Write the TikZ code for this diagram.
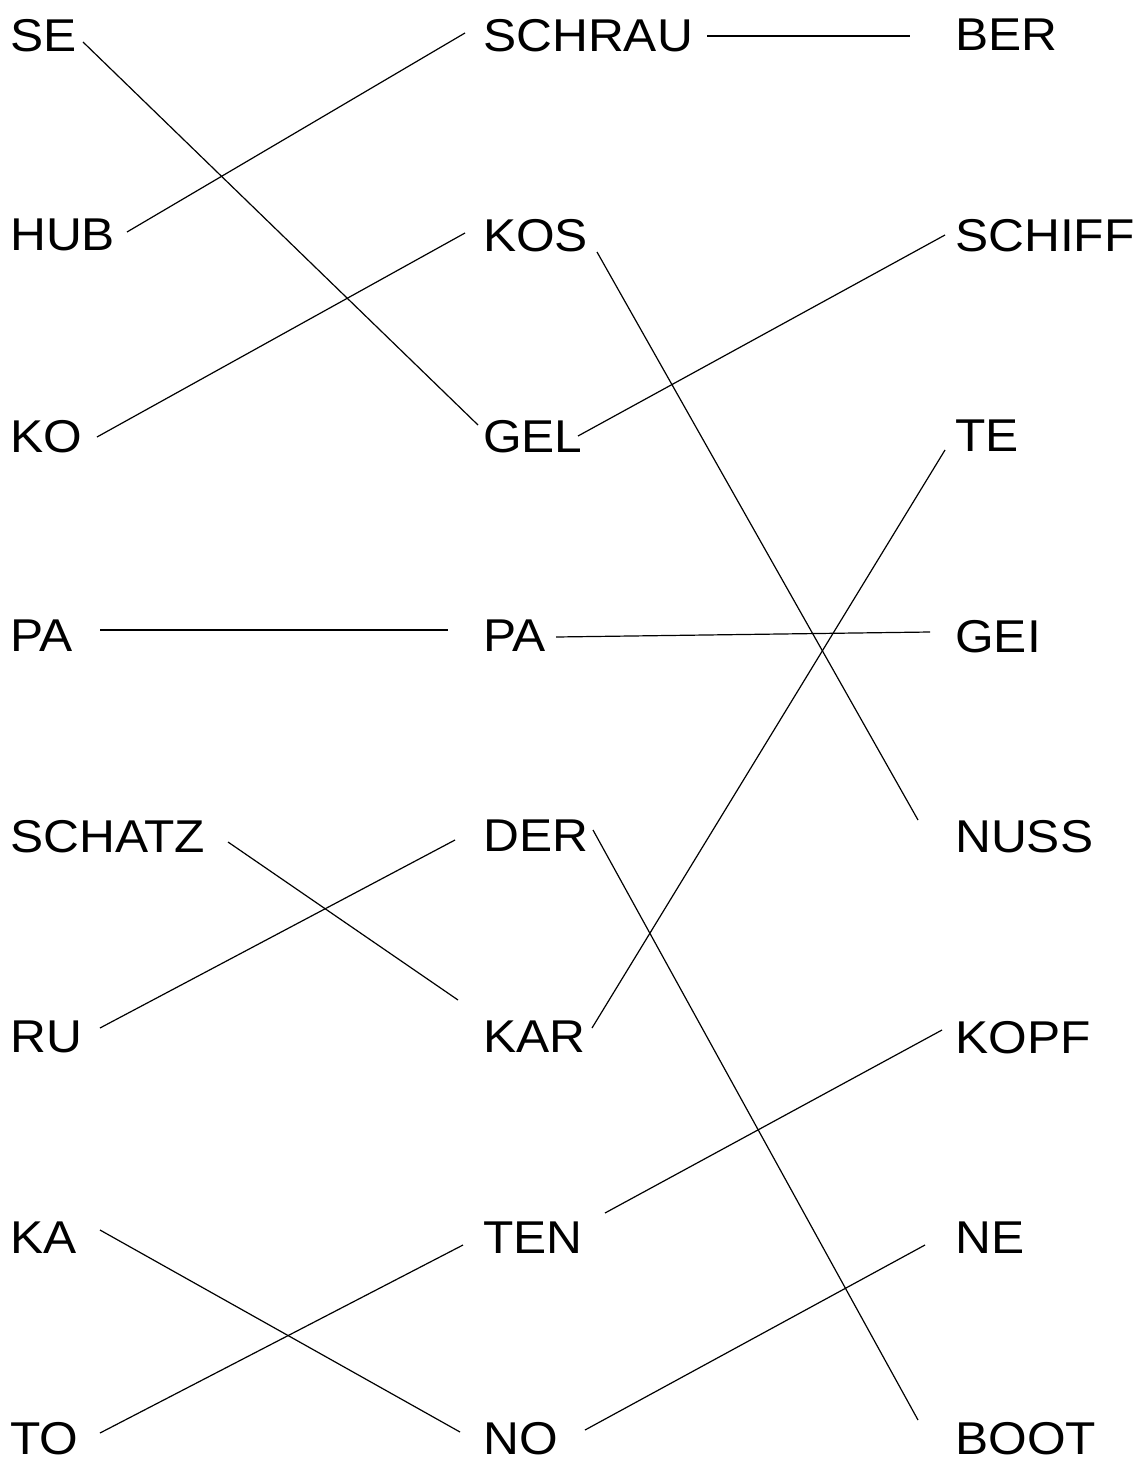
\documentclass[tikz,border=0pt]{standalone}
\usepackage{fontspec}
\setmainfont{Liberation Sans}
\newfontfamily\wordfont[FakeStretch=1.08]{Liberation Sans}
\begin{document}
\begin{tikzpicture}[x=1pt,y=-1pt,
  word/.style={anchor=west,inner sep=0pt,text depth=0pt,font=\wordfont\fontsize{46}{50}\selectfont},
  link/.style={line width=1.2pt,black}]
\useasboundingbox (0,0) rectangle (1143,1461);
% left column
\node[word] (se) at (10,35) {SE};
\node[word] (hub) at (10,235) {HUB};
\node[word] (ko) at (10,436) {KO};
\node[word] (pa1) at (10,636) {PA};
\node[word] (schatz) at (10,836) {SCHATZ};
\node[word] (ru) at (10,1037) {RU};
\node[word] (ka) at (10,1238) {KA};
\node[word] (to) at (10,1438) {TO};
% middle column
\node[word] (schrau) at (483,35) {SCHRAU};
\node[word] (kos) at (483,235) {KOS};
\node[word] (gel) at (483,436) {GEL};
\node[word] (pa2) at (483,636) {PA};
\node[word] (der) at (483,836) {DER};
\node[word] (kar) at (483,1037) {KAR};
\node[word] (ten) at (483,1238) {TEN};
\node[word] (no) at (483,1438) {NO};
% right column
\node[word] (ber) at (955,35) {BER};
\node[word] (schiff) at (955,235) {SCHIFF};
\node[word] (te) at (955,436) {TE};
\node[word] (gei) at (955,636) {GEI};
\node[word] (nuss) at (955,836) {NUSS};
\node[word] (kopf) at (955,1037) {KOPF};
\node[word] (ne) at (955,1238) {NE};
\node[word] (boot) at (955,1438) {BOOT};
% connector end points
\coordinate (se-e) at (83,42);     \coordinate (gel-w) at (478,425);
\coordinate (hub-e) at (127,232);  \coordinate (schrau-w) at (465,33);
\coordinate (ko-e) at (97,437);    \coordinate (kos-w) at (465,233);
\coordinate (pa1-e) at (100,630);  \coordinate (pa2-w) at (448,630);
\coordinate (schatz-e) at (228,842); \coordinate (kar-w) at (458,1000);
\coordinate (ru-e) at (100,1028);  \coordinate (der-w) at (455,840);
\coordinate (ka-e) at (100,1230);  \coordinate (no-w) at (460,1432);
\coordinate (to-e) at (100,1433);  \coordinate (ten-w) at (463,1245);
\coordinate (schrau-e) at (707,36); \coordinate (ber-w) at (910,36);
\coordinate (kos-e) at (597,252);  \coordinate (nuss-w) at (918,820);
\coordinate (gel-e) at (578,436);  \coordinate (schiff-w) at (945,235);
\coordinate (pa2-e) at (556,637);  \coordinate (gei-w) at (930,632);
\coordinate (kar-e) at (592,1028); \coordinate (te-w) at (945,450);
\coordinate (der-e) at (593,830);  \coordinate (boot-w) at (918,1420);
\coordinate (ten-e) at (605,1213); \coordinate (kopf-w) at (942,1030);
\coordinate (no-e) at (585,1430);  \coordinate (ne-w) at (925,1245);
% connectors
\draw[link] (se-e) -- (gel-w);
\draw[link] (hub-e) -- (schrau-w);
\draw[link] (ko-e) -- (kos-w);
\draw[link] (pa1-e) -- (pa2-w);
\draw[link] (schatz-e) -- (kar-w);
\draw[link] (ru-e) -- (der-w);
\draw[link] (ka-e) -- (no-w);
\draw[link] (to-e) -- (ten-w);
\draw[link] (schrau-e) -- (ber-w);
\draw[link] (kos-e) -- (nuss-w);
\draw[link] (gel-e) -- (schiff-w);
\draw[link] (pa2-e) -- (gei-w);
\draw[link] (kar-e) -- (te-w);
\draw[link] (der-e) -- (boot-w);
\draw[link] (ten-e) -- (kopf-w);
\draw[link] (no-e) -- (ne-w);
\end{tikzpicture}
\end{document}
